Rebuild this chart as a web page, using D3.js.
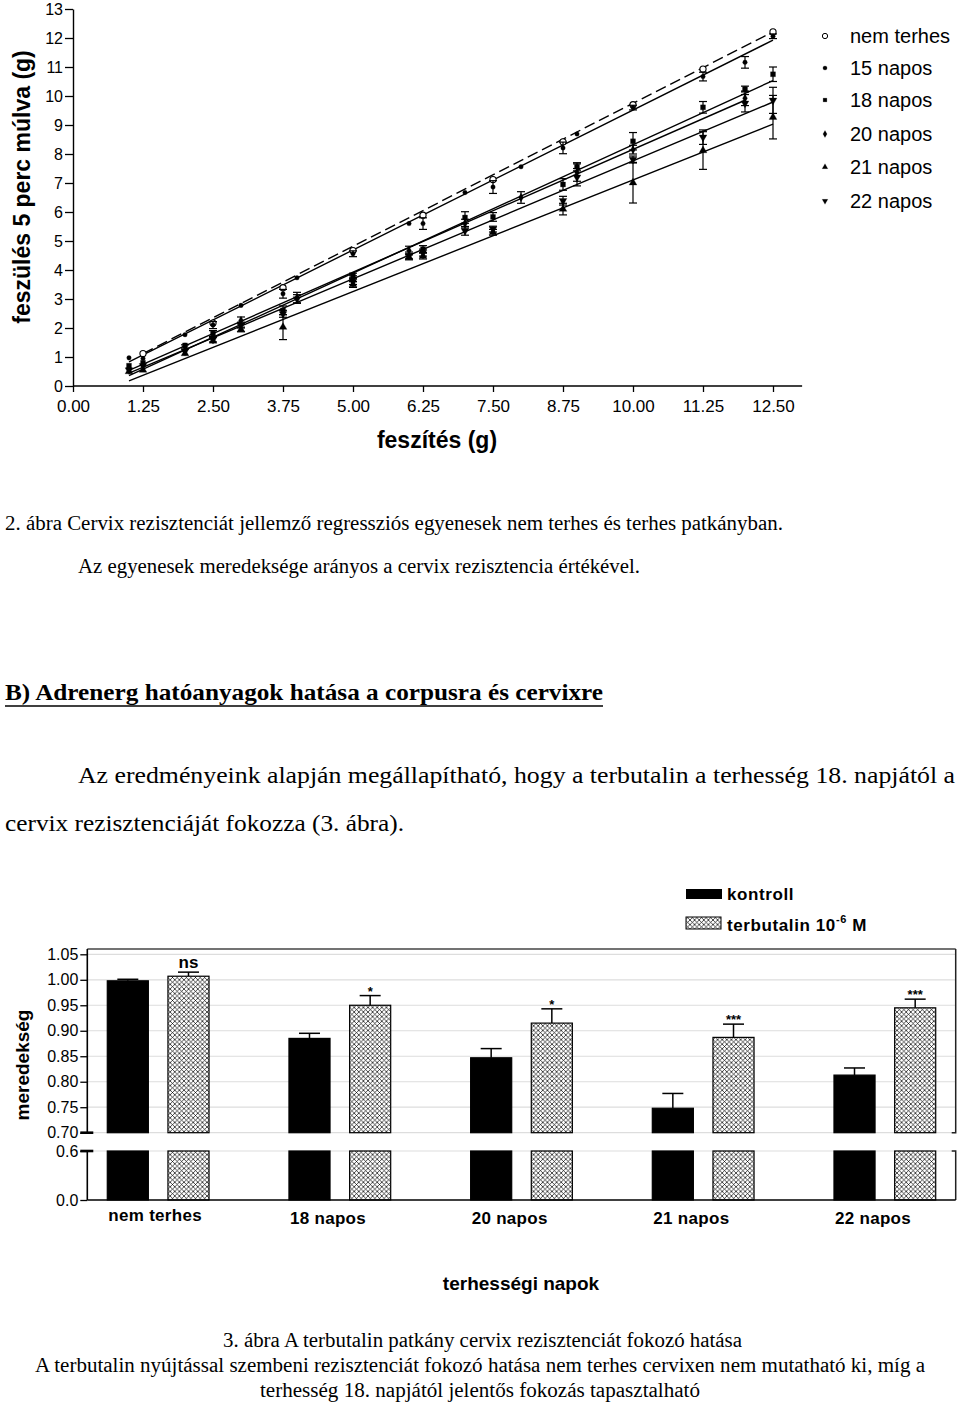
<!DOCTYPE html>
<html>
<head>
<meta charset="utf-8">
<script src="https://cdn.jsdelivr.net/npm/d3@7/dist/d3.min.js"></script>
<style>
body { margin: 0; background: #fff; }
text { fill: #000; }
.sans { font-family: "Liberation Sans", Arial, sans-serif; }
.serif { font-family: "Liberation Serif", "Times New Roman", serif; }
</style>
</head>
<body>
<svg id="page" width="960" height="1404"></svg>
<script>
// ---------- 2. abra: regression lines ----------
var groupNames = ["nem terhes", "15 napos", "18 napos", "20 napos", "21 napos", "22 napos"];

var nemX = [1.25, 2.5, 3.75, 5, 6.25, 7.5, 8.75, 10, 11.25, 12.5];
var nemY = [1.12, 2.17, 3.39, 4.67, 5.89, 7.12, 8.42, 9.70, 10.93, 12.21];
var nemErr = [0.03, 0.04, 0.05, 0.05, 0.05, 0.05, 0.05, 0.05, 0.05, 0.05];

var d15X = [1, 1.25, 2, 2.5, 3, 3.75, 4, 5, 6, 6.25, 7, 7.5, 8, 8.75, 9, 10, 11.25, 12, 12.5];
var d15Y = [0.97, 0.95, 1.77, 2.1, 2.78, 3.18, 3.73, 4.56, 5.60, 5.60, 6.67, 6.86, 7.56, 8.21, 8.69, 9.6, 10.67, 11.16, 12.06];
var d15Err = [0, 0.05, 0, 0.12, 0, 0.15, 0, 0.1, 0, 0.2, 0, 0.22, 0, 0.2, 0, 0.08, 0.15, 0.2, 0.08];

var d18X = [1, 1.25, 2, 2.5, 3.75, 5, 6.25, 7, 7.5, 8.75, 9, 10, 11.25, 12, 12.5];
var d18Y = [0.7, 0.8, 1.4, 1.81, 2.61, 3.81, 4.72, 5.81, 5.83, 6.95, 7.56, 8.44, 9.61, 10.24, 10.75];
var d18Err = [0.05, 0.06, 0.06, 0.1, 0.15, 0.08, 0.12, 0.2, 0.15, 0.2, 0.14, 0.3, 0.2, 0.1, 0.25];

var d20X = [1, 2, 3, 4, 5, 6, 7, 8, 9, 10, 12];
var d20Y = [0.62, 1.35, 2.26, 3.05, 3.7, 4.67, 5.6, 6.5, 7.36, 8.15, 9.92];
var d20Err = [0.05, 0.07, 0.12, 0.18, 0.1, 0.15, 0.15, 0.2, 0.3, 0.15, 0.25];

var d21X = [1, 1.25, 2, 2.5, 3, 3.75, 5, 6, 6.25, 7.5, 8.75, 10, 11.25, 12.5];
var d21Y = [0.5, 0.55, 1.12, 1.55, 1.95, 2.03, 3.5, 4.45, 4.48, 5.3, 6.10, 7.01, 8.12, 9.27];
var d21Err = [0.05, 0.05, 0.06, 0.06, 0.08, 0.43, 0.1, 0.1, 0.1, 0.1, 0.2, 0.7, 0.65, 0.75];

var d22X = [1, 1.25, 2, 2.5, 3, 3.75, 4, 5, 6, 6.25, 7, 7.5, 8.75, 9, 10, 11.25, 12, 12.5];
var d22Y = [0.55, 0.7, 1.2, 1.6, 2.1, 2.49, 3.0, 3.6, 4.5, 4.6, 5.35, 5.41, 6.39, 7.2, 7.81, 8.58, 9.75, 9.85];
var d22Err = [0.05, 0.05, 0.06, 0.08, 0.1, 0.12, 0.15, 0.1, 0.12, 0.12, 0.15, 0.1, 0.15, 0.3, 0.12, 0.25, 0.3, 0.45];

// fitted lines: y = a + b*x between from..to
var lineA = [-0.113, -0.135, -0.53, -0.31, -0.595, -0.37];
var lineB = [0.986, 0.965, 0.885, 0.847, 0.77, 0.813];
var lineFrom = [1.25, 1, 1, 1, 1, 1];
var lineTo = [12.5, 12.5, 12.5, 12, 12.5, 12.5];

var xTicks1 = [0, 1.25, 2.5, 3.75, 5, 6.25, 7.5, 8.75, 10, 11.25, 12.5];
var yTicks1 = d3.range(0, 14);

// ---------- 3. abra: slopes ----------
var barGroups = ["nem terhes", "18 napos", "20 napos", "21 napos", "22 napos"];
var barSeries = ["kontroll", "terbutalin"];
var kontroll = [0.998, 0.885, 0.847, 0.748, 0.813];
var kontrollErr = [0.003, 0.010, 0.018, 0.029, 0.014];
var terbutalin = [1.007, 0.950, 0.915, 0.887, 0.945];
var terbutalinErr = [0.008, 0.019, 0.028, 0.026, 0.017];
var signif = ["ns", "*", "*", "***", "***"];
var upperTicks = [0.70, 0.75, 0.80, 0.85, 0.90, 0.95, 1.00, 1.05];
var lowerTicks = [0.0, 0.6];

var svg = d3.select("#page");

var series = [
  {x: nemX, y: nemY, e: nemErr},
  {x: d15X, y: d15Y, e: d15Err},
  {x: d18X, y: d18Y, e: d18Err},
  {x: d20X, y: d20Y, e: d20Err},
  {x: d21X, y: d21Y, e: d21Err},
  {x: d22X, y: d22Y, e: d22Err}
];
var symTypes = [d3.symbolCircle, d3.symbolCircle, d3.symbolSquare, d3.symbolDiamond, d3.symbolTriangle, d3.symbolTriangle];
var symSize = [30, 16, 24, 20, 26, 26];
var symRot = [0, 0, 0, 0, 0, 180];
var symFill = ["#fff", "#000", "#000", "#000", "#000", "#000"];

var x1 = d3.scaleLinear().domain([0, 12.5]).range([73, 773]);
var y1 = d3.scaleLinear().domain([0, 13]).range([386, 9]);

var g1 = svg.append("g").attr("class", "sans");

// axes
var xAx = g1.append("g").attr("transform", "translate(0," + y1(0) + ")")
  .call(d3.axisBottom(x1).tickValues(xTicks1).tickFormat(d3.format(".2f")).tickSize(6).tickPadding(8).tickSizeOuter(0));
xAx.select(".domain").remove();
xAx.append("line").attr("x1", x1(0)).attr("x2", x1(13.02)).attr("stroke", "#000").attr("stroke-width", 1.4);
xAx.selectAll(".tick line").attr("stroke-width", 1.3);
xAx.selectAll("text").attr("font-size", 17).attr("fill", "#000").style("font-family", "Liberation Sans, Arial");

var yAx = g1.append("g").attr("transform", "translate(" + x1(0) + ",0)")
  .call(d3.axisLeft(y1).tickValues(yTicks1).tickFormat(d3.format("d")).tickSize(8).tickPadding(2).tickSizeOuter(0));
yAx.select(".domain").attr("stroke-width", 1.4);
yAx.selectAll(".tick line").attr("stroke-width", 1.3);
yAx.selectAll("text").attr("font-size", 16).attr("fill", "#000").style("font-family", "Liberation Sans, Arial");

g1.append("text").attr("x", 437).attr("y", 448).attr("text-anchor", "middle")
  .attr("font-size", 23).attr("font-weight", "bold").text("feszítés (g)");
g1.append("text").attr("transform", "translate(22,187) rotate(-90)").attr("dy", "0.35em")
  .attr("text-anchor", "middle").attr("font-size", 23).attr("font-weight", "bold")
  .text("feszülés 5 perc múlva (g)");

// regression lines
g1.selectAll("line.fit").data(groupNames).enter().append("line")
  .attr("class", "fit")
  .attr("x1", function(d, i) { return x1(lineFrom[i]); })
  .attr("x2", function(d, i) { return x1(lineTo[i]); })
  .attr("y1", function(d, i) { return y1(lineA[i] + lineB[i] * lineFrom[i]); })
  .attr("y2", function(d, i) { return y1(lineA[i] + lineB[i] * lineTo[i]); })
  .attr("stroke", "#000").attr("stroke-width", 1.4)
  .attr("stroke-dasharray", function(d, i) { return i == 0 ? "11,5" : null; });

// error bars + markers
series.forEach(function(s, gi) {
  var pts = s.x.map(function(v, j) { return {x: v, y: s.y[j], e: s.e[j]}; });
  var gg = g1.append("g");
  var eb = gg.selectAll("g.eb").data(pts.filter(function(p) { return p.e > 0.06; })).enter().append("g");
  eb.append("line")
    .attr("x1", function(p) { return x1(p.x); }).attr("x2", function(p) { return x1(p.x); })
    .attr("y1", function(p) { return y1(p.y + p.e); }).attr("y2", function(p) { return y1(p.y - p.e); });
  eb.append("line")
    .attr("x1", function(p) { return x1(p.x) - 4; }).attr("x2", function(p) { return x1(p.x) + 4; })
    .attr("y1", function(p) { return y1(p.y + p.e); }).attr("y2", function(p) { return y1(p.y + p.e); });
  eb.append("line")
    .attr("x1", function(p) { return x1(p.x) - 4; }).attr("x2", function(p) { return x1(p.x) + 4; })
    .attr("y1", function(p) { return y1(p.y - p.e); }).attr("y2", function(p) { return y1(p.y - p.e); });
  eb.selectAll("line").attr("stroke", "#000").attr("stroke-width", 1.2);

  gg.selectAll("path.pt").data(pts).enter().append("path")
    .attr("d", d3.symbol().type(symTypes[gi]).size(symSize[gi]))
    .attr("transform", function(p) { return "translate(" + x1(p.x) + "," + y1(p.y) + ") rotate(" + symRot[gi] + ")"; })
    .attr("fill", symFill[gi]).attr("stroke", "#000").attr("stroke-width", gi == 0 ? 1.1 : 0.3);
});

// legend
var legY = [36, 68, 100, 134, 167, 201];
var leg = g1.selectAll("g.leg").data(groupNames).enter().append("g")
  .attr("transform", function(d, i) { return "translate(825," + legY[i] + ")"; });
leg.append("path")
  .attr("d", function(d, i) { return d3.symbol().type(symTypes[i]).size(i == 0 ? 22 : 14)(); })
  .attr("transform", function(d, i) { return "rotate(" + symRot[i] + ")"; })
  .attr("fill", function(d, i) { return symFill[i]; })
  .attr("stroke", "#000").attr("stroke-width", function(d, i) { return i == 0 ? 1 : 0.2; });
leg.append("text").attr("x", 25).attr("dy", "0.36em").attr("font-size", 20).text(function(d) { return d; });

// ---------- page text ----------
var texts = [
  {t: "2. ábra Cervix rezisztenciát jellemző regressziós egyenesek nem terhes és terhes patkányban.", x: 5, y: 530, s: 20, w: 778},
  {t: "Az egyenesek meredeksége arányos a cervix rezisztencia értékével.", x: 78, y: 573, s: 20, w: 562},
  {t: "Az eredményeink alapján megállapítható, hogy a terbutalin a terhesség 18. napjától a", x: 78, y: 783, s: 24, w: 877},
  {t: "cervix rezisztenciáját fokozza (3. ábra).", x: 5, y: 831, s: 24, w: 399},
  {t: "3. ábra A terbutalin patkány cervix rezisztenciát fokozó hatása", x: 223, y: 1347, s: 20, w: 519},
  {t: "A terbutalin nyújtással szembeni rezisztenciát fokozó hatása nem terhes cervixen nem mutatható ki, míg a", x: 35, y: 1372, s: 20, w: 890},
  {t: "terhesség 18. napjától jelentős fokozás tapasztalható", x: 260, y: 1397, s: 20, w: 440}
];
svg.selectAll("text.body").data(texts).enter().append("text")
  .attr("class", "serif body")
  .attr("x", function(d) { return d.x; }).attr("y", function(d) { return d.y; })
  .attr("font-size", function(d) { return d.s; })
  .attr("textLength", function(d) { return d.w; }).attr("lengthAdjust", "spacingAndGlyphs")
  .text(function(d) { return d.t; });

svg.append("text").attr("class", "serif").attr("x", 5).attr("y", 700)
  .attr("font-size", 24).attr("font-weight", "bold")
  .attr("textLength", 598).attr("lengthAdjust", "spacingAndGlyphs")
  .text("B) Adrenerg hatóanyagok hatása a corpusra és cervixre");
svg.append("line").attr("x1", 5).attr("x2", 603).attr("y1", 706).attr("y2", 706)
  .attr("stroke", "#000").attr("stroke-width", 1.6);

// ---------- 3. abra bars ----------
var g2 = svg.append("g").attr("class", "sans");
var defs = svg.append("defs");
var pat = defs.append("pattern").attr("id", "hatch").attr("patternUnits", "userSpaceOnUse")
  .attr("width", 4.6).attr("height", 4.6);
pat.append("rect").attr("width", 4.6).attr("height", 4.6).attr("fill", "#fff");
pat.append("path").attr("d", "M0,0L4.6,4.6M4.6,0L0,4.6")
  .attr("stroke", "#000").attr("stroke-width", 0.7);

var xb = d3.scaleBand().domain(barGroups).range([87.3, 955.7]).paddingInner(0.44).paddingOuter(0.11);
var xs = d3.scaleBand().domain(barSeries).range([0, xb.bandwidth()]).paddingInner(0.323);
var yUp = d3.scaleLinear().domain([0.70, 1.05]).range([1132.7, 954.3]);
var yLow = d3.scaleLinear().domain([0, 0.6]).range([1200, 1151]);
var left = 87.3, right = 955.7;

// grid
g2.selectAll("line.grid").data(upperTicks).enter().append("line")
  .attr("x1", left).attr("x2", right).attr("y1", function(d) { return yUp(d); }).attr("y2", function(d) { return yUp(d); })
  .attr("stroke", "#ddd").attr("stroke-width", 1.2);
g2.append("line").attr("x1", left).attr("x2", right).attr("y1", yLow(0.6)).attr("y2", yLow(0.6))
  .attr("stroke", "#ddd").attr("stroke-width", 1.2);

// frame
g2.append("line").attr("x1", left).attr("x2", right).attr("y1", 949).attr("y2", 949).attr("stroke", "#444").attr("stroke-width", 1.3);
g2.append("path").attr("d", "M" + right + ",949V" + yUp(0.70) + "h-4M" + (right - 4) + "," + yLow(0.6) + "h4V" + yLow(0))
  .attr("fill", "none").attr("stroke", "#222").attr("stroke-width", 1.5);

var bars = [];
barGroups.forEach(function(g, i) {
  bars.push({g: g, s: "kontroll", v: kontroll[i], e: kontrollErr[i], sig: null});
  bars.push({g: g, s: "terbutalin", v: terbutalin[i], e: terbutalinErr[i], sig: signif[i]});
});
function bx(d) { return xb(d.g) + xs(d.s); }
function bfill(d) { return d.s == "kontroll" ? "#000" : "url(#hatch)"; }

// error bars
var ebg = g2.selectAll("g.err").data(bars).enter().append("g");
ebg.append("line")
  .attr("x1", function(d) { return bx(d) + xs.bandwidth() / 2; }).attr("x2", function(d) { return bx(d) + xs.bandwidth() / 2; })
  .attr("y1", function(d) { return yUp(d.v); }).attr("y2", function(d) { return yUp(d.v + d.e); });
ebg.append("line")
  .attr("x1", function(d) { return bx(d) + xs.bandwidth() / 2 - 10.5; }).attr("x2", function(d) { return bx(d) + xs.bandwidth() / 2 + 10.5; })
  .attr("y1", function(d) { return yUp(d.v + d.e); }).attr("y2", function(d) { return yUp(d.v + d.e); });
ebg.selectAll("line").attr("stroke", "#000").attr("stroke-width", 1.5);

g2.selectAll("rect.up").data(bars).enter().append("rect")
  .attr("x", bx).attr("width", xs.bandwidth())
  .attr("y", function(d) { return yUp(d.v); }).attr("height", function(d) { return yUp(0.70) - yUp(d.v); })
  .attr("fill", bfill).attr("stroke", "#000").attr("stroke-width", 1.2);
g2.selectAll("rect.low").data(bars).enter().append("rect")
  .attr("x", bx).attr("width", xs.bandwidth())
  .attr("y", yLow(0.6)).attr("height", yLow(0) - yLow(0.6))
  .attr("fill", bfill).attr("stroke", "#000").attr("stroke-width", 1.2);

// significance marks
g2.selectAll("text.sig").data(bars.filter(function(d) { return d.sig; })).enter().append("text")
  .attr("x", function(d) { return bx(d) + xs.bandwidth() / 2; })
  .attr("y", function(d) { return yUp(d.v + d.e) - (d.sig == "ns" ? 4 : 0); })
  .attr("text-anchor", "middle").attr("font-weight", "bold")
  .attr("font-size", function(d) { return d.sig == "ns" ? 17 : 13; })
  .text(function(d) { return d.sig; });

// y axis (broken)
var au = g2.append("g").attr("transform", "translate(" + left + ",0)")
  .call(d3.axisLeft(yUp).tickValues(upperTicks).tickFormat(d3.format(".2f")).tickSize(7).tickPadding(2).tickSizeOuter(0));
au.select(".domain").attr("d", "M0,949V" + yUp(0.70)).attr("stroke-width", 1.6);
var al = g2.append("g").attr("transform", "translate(" + left + ",0)")
  .call(d3.axisLeft(yLow).tickValues(lowerTicks).tickFormat(d3.format(".1f")).tickSize(7).tickPadding(2).tickSizeOuter(0));
al.select(".domain").attr("d", "M0," + yLow(0.6) + "V" + yLow(0)).attr("stroke-width", 1.6);
[au, al].forEach(function(a) {
  a.selectAll("text").attr("font-size", 16).attr("fill", "#000").style("font-family", "Liberation Sans, Arial");
  a.selectAll(".tick line").attr("stroke-width", 1.3);
});
// break markers
g2.selectAll("line.brk").data([yUp(0.70), yLow(0.6)]).enter().append("line")
  .attr("x1", left - 7).attr("x2", left + 6).attr("y1", function(d) { return d; }).attr("y2", function(d) { return d; })
  .attr("stroke", "#000").attr("stroke-width", 2.6);
// baseline
g2.append("line").attr("x1", left).attr("x2", right).attr("y1", yLow(0)).attr("y2", yLow(0)).attr("stroke", "#000").attr("stroke-width", 1.6);

// category labels
g2.selectAll("text.cat").data(barGroups).enter().append("text")
  .attr("x", function(d) { return xb(d) + 1; })
  .attr("y", function(d, i) { return i == 0 ? 1221 : 1224; })
  .attr("font-size", 17).attr("font-weight", "bold").attr("letter-spacing", 0.3)
  .text(function(d) { return d; });

g2.append("text").attr("x", 521).attr("y", 1290).attr("text-anchor", "middle")
  .attr("font-size", 19).attr("font-weight", "bold").text("terhességi napok");
g2.append("text").attr("transform", "translate(22,1065) rotate(-90)").attr("dy", "0.35em")
  .attr("text-anchor", "middle").attr("font-size", 19).attr("font-weight", "bold").text("meredekség");

// legend
var lg = g2.append("g");
lg.append("rect").attr("x", 686).attr("y", 889).attr("width", 36).attr("height", 10).attr("fill", "#000");
lg.append("rect").attr("x", 686).attr("y", 917).attr("width", 35).attr("height", 12).attr("fill", "url(#hatch)").attr("stroke", "#000").attr("stroke-width", 1);
lg.append("text").attr("x", 727).attr("y", 900).attr("font-size", 17).attr("font-weight", "bold").attr("letter-spacing", 0.6).text(barSeries[0]);
var tl = lg.append("text").attr("x", 727).attr("y", 931).attr("font-size", 17).attr("font-weight", "bold").attr("letter-spacing", 0.6);
tl.append("tspan").text("terbutalin 10");
tl.append("tspan").attr("dy", -8).attr("font-size", 11).text("-6");
tl.append("tspan").attr("dy", 8).text(" M");
</script>
</body>
</html>
